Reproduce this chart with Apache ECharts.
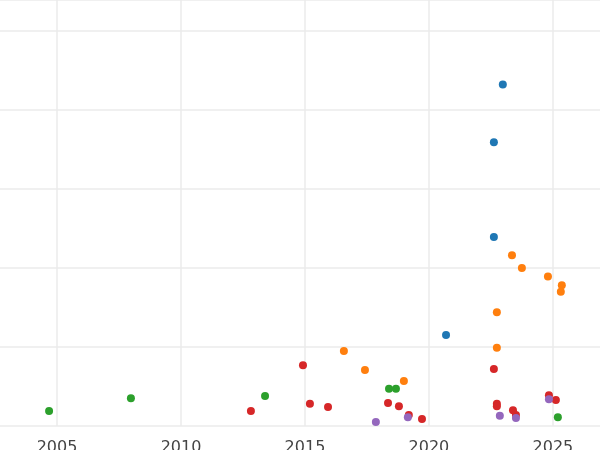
<!doctype html>
<html>
<head>
<script src="https://cdn.jsdelivr.net/npm/echarts@6/dist/echarts.min.js"></script>
</head>
<body style="margin:0">
<div id="chart" style="width:600px;height:450px;"></div>
<script>
var xTicks = [2005, 2010, 2015, 2020, 2025]
var blue = [[2022.98,4.32],[2022.62,3.59],[2022.62,2.39],[2020.69,1.15]]
var orange = [[2023.35,2.16],[2023.75,2.0],[2024.8,1.89],[2025.36,1.78],[2025.32,1.70],[2022.74,1.44],[2022.74,0.99],[2016.57,0.95],[2017.42,0.71],[2018.99,0.57]]
var green = [[2004.68,0.19],[2007.98,0.35],[2013.39,0.38],[2018.39,0.47],[2018.67,0.47],[2025.2,0.11]]
var red = [[2014.92,0.77],[2022.62,0.72],[2015.2,0.28],[2015.93,0.24],[2018.35,0.29],[2018.79,0.25],[2012.82,0.19],[2019.19,0.14],[2019.72,0.09],[2022.74,0.28],[2022.74,0.25],[2023.51,0.14],[2024.84,0.39],[2025.12,0.33],[2023.39,0.2]]
var purple = [[2017.86,0.05],[2019.15,0.11],[2022.86,0.13],[2023.51,0.10],[2024.84,0.34]]

function ser(name, color, data) {
    return { name: name, type: 'scatter', symbolSize: 8, itemStyle: { color: color, opacity: 1 }, data: data }
}

var chart = echarts.init(document.getElementById('chart'))
chart.setOption({
    animation: false,
    grid: { left: 0, right: 0, top: 0, bottom: 24, containLabel: false, outerBoundsMode: 'none' },
    xAxis: {
        type: 'value', min: 2002.7, max: 2026.9,
        axisLine: { show: false },
        axisTick: { show: false, customValues: xTicks },
        axisLabel: { customValues: xTicks, color: '#444', fontSize: 16, fontFamily: 'DejaVu Sans', margin: 6,
            formatter: function (v) { return String(v) } },
        splitLine: { show: true, lineStyle: { color: '#ebebeb', width: 1.5 } }
    },
    yAxis: {
        type: 'value', min: 0, max: 5.39, interval: 1,
        axisLine: { show: false },
        axisTick: { show: false },
        axisLabel: { show: false },
        splitLine: { show: true, lineStyle: { color: '#ebebeb', width: 1.5 } }
    },
    series: [
        ser('blue', '#1f77b4', blue),
        ser('orange', '#ff7f0e', orange),
        ser('green', '#2ca02c', green),
        ser('red', '#d62728', red),
        ser('purple', '#9467bd', purple)
    ]
})
</script>
</body>
</html>
